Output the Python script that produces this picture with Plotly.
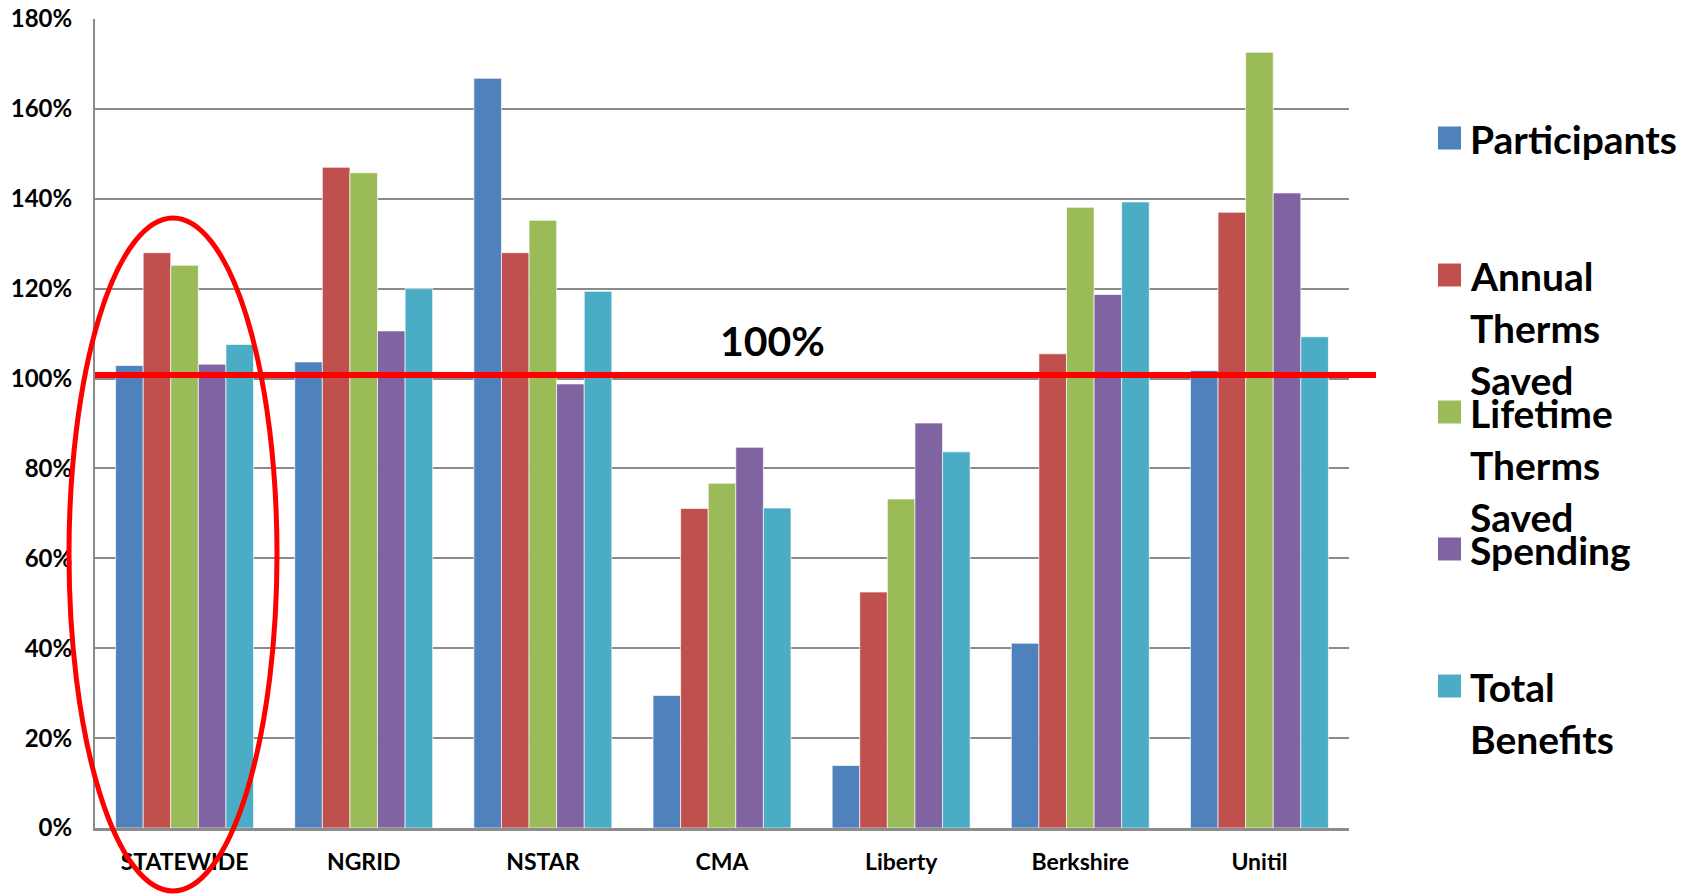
import plotly.graph_objects as go

# ---------------- data ----------------
categories = ["STATEWIDE", "NGRID", "NSTAR", "CMA", "Liberty", "Berkshire", "Unitil"]
series_names = ["Participants", "Annual Therms Saved", "Lifetime Therms Saved", "Spending", "Total Benefits"]
participants = [102.9, 103.7, 166.8, 29.5, 13.9, 41.1, 101.8]
annual_therms = [128.0, 147.0, 128.0, 71.1, 52.5, 105.5, 137.0]
lifetime_therms = [125.2, 145.8, 135.2, 76.7, 73.2, 138.1, 172.6]
spending = [103.2, 110.6, 98.8, 84.7, 90.1, 118.7, 141.3]
total_benefits = [107.6, 120.0, 119.4, 71.2, 83.7, 139.3, 109.3]
y_tick_values = [0, 20, 40, 60, 80, 100, 120, 140, 160, 180]
y_tick_labels = ["0%", "20%", "40%", "60%", "80%", "100%", "120%", "140%", "160%", "180%"]
target_label = "100%"
target_level = 100.8

# ---------------- styling ----------------
colors = ["#4F81BD", "#C0504D", "#9BBB59", "#8064A2", "#4BACC6"]
W, H = 1696, 895
ML, MR, MT, MB = 95, 347, 19, 67
PW, PH = W - ML - MR, H - MT - MB
FONT = "Lato"


def px_x(px):
    return (px - ML) / PW


def px_y(py):
    return (H - MB - py) / PH


all_series = [participants, annual_therms, lifetime_therms, spending, total_benefits]

fig = go.Figure()
for name, vals, col in zip(series_names, all_series, colors):
    fig.add_trace(go.Bar(
        x=categories, y=vals, name=name, showlegend=False,
        marker=dict(color=col, line=dict(color="rgba(255,255,255,0.65)", width=1)),
    ))

shapes = []
annotations = []

# target line
shapes.append(dict(type="line", xref="paper", yref="y", x0=0, x1=px_x(1376),
                   y0=target_level, y1=target_level,
                   line=dict(color="#FF0000", width=6), layer="above"))
annotations.append(dict(xref="paper", yref="paper", x=px_x(772), y=px_y(340),
                        text=target_label, showarrow=False, xanchor="center", yanchor="middle",
                        font=dict(family=FONT, size=41, color="black", weight="bold")))

# highlight ellipse around STATEWIDE
shapes.append(dict(type="circle", xref="paper", yref="paper",
                   x0=px_x(69), x1=px_x(277), y0=px_y(891), y1=px_y(218),
                   line=dict(color="#FF0000", width=5), layer="above"))

# legend (manual, to reproduce the wide spacing)
legend_square_y = [138, 275, 412, 549, 686]
line_gap = 52
for name, col, cy in zip(series_names, colors, legend_square_y):
    shapes.append(dict(type="rect", xref="paper", yref="paper",
                       x0=px_x(1438), x1=px_x(1461), y0=px_y(cy + 11.5), y1=px_y(cy - 11.5),
                       fillcolor=col, line=dict(width=0)))
    for i, word in enumerate(name.split(" ")):
        annotations.append(dict(xref="paper", yref="paper", x=px_x(1468), y=px_y(cy + i * line_gap + 1),
                                text=word, showarrow=False, xanchor="left", yanchor="middle",
                                font=dict(family=FONT, size=39, color="black", weight="bold")))

fig.update_layout(
    width=W, height=H,
    margin=dict(l=ML, r=MR, t=MT, b=MB, pad=0, autoexpand=False),
    paper_bgcolor="white", plot_bgcolor="white",
    barmode="group", bargap=0.23, bargroupgap=0,
    shapes=shapes, annotations=annotations,
    font=dict(family=FONT, color="black"),
)
fig.update_yaxes(
    range=[0, 180], tickvals=y_tick_values, ticktext=y_tick_labels,
    showgrid=True, gridcolor="#8A8A8A", gridwidth=2,
    showline=True, linecolor="#8A8A8A", linewidth=2,
    ticks="", ticklabelstandoff=16, automargin=False,
    tickfont=dict(family=FONT, size=24, color="black", weight="bold"),
    zeroline=False,
)
fig.update_xaxes(
    showline=True, linecolor="#8C8C8C", linewidth=3,
    ticks="", ticklabelstandoff=11, automargin=False,
    tickfont=dict(family=FONT, size=23, color="black", weight="bold"),
)

fig.write_html("out.html")
